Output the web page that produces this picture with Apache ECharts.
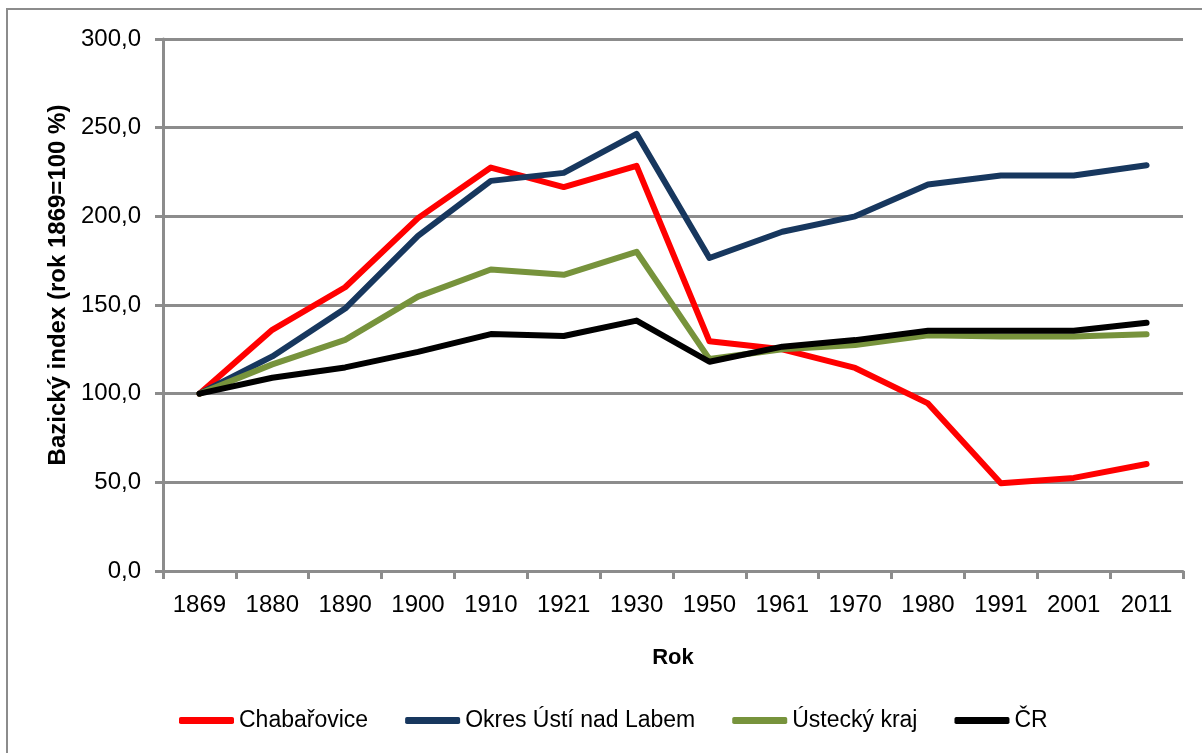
<!DOCTYPE html>
<html>
<head>
<meta charset="utf-8">
<script src="https://cdn.jsdelivr.net/npm/echarts@6/dist/echarts.min.js"></script>
<style>
  html, body { margin: 0; padding: 0; background: #fff; }
  #chart { width: 1202px; height: 753px; }
</style>
</head>
<body>
<div id="chart"></div>
<script>
const years = ['1869', '1880', '1890', '1900', '1910', '1921', '1930', '1950', '1961', '1970', '1980', '1991', '2001', '2011'];

const chabarovice = [100, 136, 160, 199, 227.5, 216.5, 228.5, 129.5, 125, 114.5, 94.5, 49.5, 52.5, 60.3];
const okresUsti = [100, 121, 148, 189, 220, 224.5, 246.5, 176.5, 191.3, 200, 218, 223, 223, 228.8];
const usteckyKraj = [100, 116.5, 130.3, 154.7, 170, 167, 180, 119.5, 125, 127.4, 132.9, 132.2, 132.2, 133.5];
const cr = [100, 109, 114.8, 123.6, 133.6, 132.5, 141.2, 118, 126.5, 130.2, 135.5, 135.5, 135.5, 140];

const FONT = '"Liberation Sans", Arial, sans-serif';
const GRAY = '#8c8c8c';

const chart = echarts.init(document.getElementById('chart'));

function lineSeries(name, data, color) {
  return {
    name: name,
    type: 'line',
    data: data,
    symbol: 'none',
    lineStyle: { color: color, width: 6, cap: 'round', join: 'round' },
    itemStyle: { color: color }
  };
}

chart.setOption({
  backgroundColor: '#fff',
  animation: false,
  graphic: [
    {
      type: 'rect',
      shape: { x: 7, y: 9, width: 1220, height: 780 },
      style: { fill: 'none', stroke: GRAY, lineWidth: 2 },
      silent: true
    }
  ],
  grid: { left: 163, right: 19, top: 39, bottom: 182 },
  legend: {
    left: 174,
    top: 704,
    icon: 'roundRect',
    itemWidth: 55,
    itemHeight: 7,
    itemGap: 37,
    textStyle: { fontFamily: FONT, fontSize: 23, color: '#000' },
    data: ['Chabařovice', 'Okres Ústí nad Labem', 'Ústecký kraj', 'ČR']
  },
  xAxis: {
    type: 'category',
    data: years,
    boundaryGap: true,
    name: 'Rok',
    nameLocation: 'middle',
    nameGap: 76,
    nameTextStyle: { fontFamily: FONT, fontSize: 22, fontWeight: 'bold', color: '#000', letterSpacing: -2 },
    axisLine: { lineStyle: { color: GRAY, width: 3 } },
    axisTick: { show: true, length: 8, lineStyle: { color: GRAY, width: 3 } },
    axisLabel: { fontFamily: FONT, fontSize: 24, color: '#000', margin: 22, interval: 0 }
  },
  yAxis: {
    type: 'value',
    min: 0,
    max: 300,
    interval: 50,
    name: 'Bazický index (rok 1869=100 %)',
    nameLocation: 'middle',
    nameGap: 91,
    nameTextStyle: {
      fontFamily: FONT, fontSize: 24, fontWeight: 'bold', color: '#000',
      letterSpacing: -0.6, padding: [0, 0, 0, 40]
    },
    axisLine: { show: true, lineStyle: { color: GRAY, width: 3 } },
    axisTick: { show: true, length: 8, lineStyle: { color: GRAY, width: 3 } },
    splitLine: { lineStyle: { color: GRAY, width: 3 } },
    axisLabel: {
      fontFamily: FONT,
      fontSize: 24,
      color: '#000',
      margin: 22,
      formatter: v => v.toFixed(1).replace('.', ',')
    }
  },
  series: [
    lineSeries('Chabařovice', chabarovice, '#ff0000'),
    lineSeries('Okres Ústí nad Labem', okresUsti, '#17375e'),
    lineSeries('Ústecký kraj', usteckyKraj, '#77933c'),
    lineSeries('ČR', cr, '#000000')
  ]
});
</script>
</body>
</html>
